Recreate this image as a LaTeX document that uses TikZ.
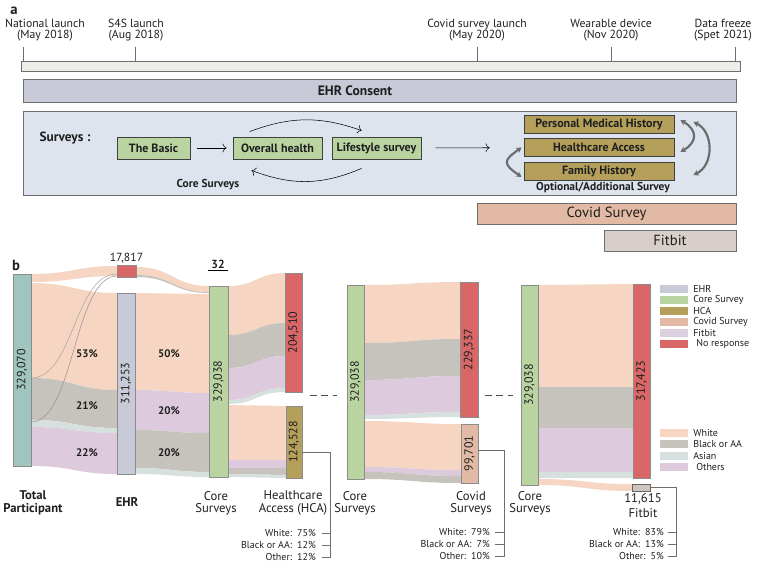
\documentclass[tikz,border=0pt]{standalone}
\usepackage{fontspec}
\setmainfont{PT Sans}
\usetikzlibrary{arrows.meta}

\definecolor{lineg}{HTML}{6E6E6E}
\definecolor{timec}{HTML}{EFEDE8}
\definecolor{ehrc}{HTML}{C8CAD7}
\definecolor{survc}{HTML}{DDE4EE}
\definecolor{corec}{HTML}{B9D3A1}
\definecolor{hcac}{HTML}{B5A05B}
\definecolor{covc}{HTML}{E2B9A4}
\definecolor{fitc}{HTML}{D8CECA}
\definecolor{noresc}{HTML}{D96767}
\definecolor{totc}{HTML}{A0C5BF}
\definecolor{whitec}{HTML}{F6D6C2}
\definecolor{blackc}{HTML}{C5C3BC}
\definecolor{asianc}{HTML}{D6E0DE}
\definecolor{otherc}{HTML}{DDCADD}
\definecolor{fitnc}{HTML}{CDC5BE}
\definecolor{legfit}{HTML}{DCD0E0}

% one sankey band: x1, top1, bottom1, x2, top2, bottom2, colour
\newcommand{\flow}[7]{%
  \fill[#7] (#1,#2) .. controls ({(#1+#4)/2},#2) and ({(#1+#4)/2},#5) .. (#4,#5)
    -- (#4,#6) .. controls ({(#1+#4)/2},#6) and ({(#1+#4)/2},#3) .. (#1,#3) -- cycle;}

\begin{document}
\begin{tikzpicture}[x=0.75pt,y=-0.75pt,
    every node/.style={text=black!88},
    >={To[length=3pt,width=6.5pt]},
    bar/.style 2 args={draw=lineg, line width=0.6pt, inner sep=0pt,
      minimum width=#1*0.75pt, minimum height=#2*0.75pt},
    sbox/.style={draw=black!75, line width=0.6pt, inner sep=0pt,
      minimum height=22*0.75pt, font=\fontsize{9}{9}\selectfont\bfseries},
    sbar/.style 2 args={draw=black!45, line width=0.5pt, rotate=90, inner sep=0pt,
      minimum width=#2*0.75pt, minimum height=#1*0.75pt, font=\fontsize{9}{9}\selectfont},
    tl/.style={align=center, font=\fontsize{8.8}{8.6}\selectfont},
    capt/.style={align=center, font=\fontsize{9.5}{9.3}\selectfont},
    pct/.style={font=\fontsize{8.2}{9}\selectfont\bfseries},
    stat/.style={anchor=east, inner sep=0pt, font=\fontsize{7.5}{8}\selectfont},
    sw/.style={minimum width=28*0.75pt, minimum height=7.5*0.75pt, inner sep=0pt},
    legtext/.style={anchor=west, inner sep=0pt, font=\fontsize{7.5}{8}\selectfont},
    garrow/.style={draw=black!58, line width=1.6pt,
      arrows={Stealth[length=4pt,width=4.5pt]-Stealth[length=4pt,width=4.5pt]}}]
  \useasboundingbox (0,0) rectangle (761,572);

  % a : timeline
  \node[font=\fontsize{11}{11}\selectfont\bfseries] (la) at (14,11) {a};
  \node[tl] (t1) at (45,30) {National launch\\(May 2018)};
  \node[tl] (t2) at (136,30) {S4S launch\\(Aug 2018)};
  \node[tl] (t3) at (477,30) {Covid survey launch\\(May 2020)};
  \node[tl] (t4) at (611,30) {Wearable device\\(Nov 2020)};
  \node[tl] (t5) at (723,30) {Data freeze\\(Spet 2021)};
  \node[bar={719}{10}, fill=timec] (time) at (380.5,66) {};
  \coordinate (tk1) at (23,47);
  \coordinate (tk2) at (135,47);
  \coordinate (tk3) at (477,47);
  \coordinate (tk4) at (611,47);
  \coordinate (tk5) at (735,47);
  \draw[lineg] (tk1) -- (tk1 |- time.north);
  \draw[lineg] (tk2) -- (tk2 |- time.north);
  \draw[lineg] (tk3) -- (tk3 |- time.north);
  \draw[lineg] (tk4) -- (tk4 |- time.north);
  \draw[lineg] (tk5) -- (tk5 |- time.north);

  \node[bar={713}{23}, fill=ehrc] (ehr) at (379.5,90.5) {};
  \node[font=\fontsize{10.2}{10}\selectfont\bfseries] (ehrt) at (355,90.5) {EHR Consent};

  % a : surveys
  \node[bar={713}{84}, fill=survc] (surv) at (379.5,153) {};
  \node[font=\fontsize{10}{10}\selectfont\bfseries] (survt) at (65,138) {Surveys :};
  \node[sbox, fill=corec, minimum width=73*0.75pt] (basic) at (153.5,148) {The Basic};
  \node[sbox, fill=corec, minimum width=89*0.75pt] (overall) at (277.5,148) {Overall health};
  \node[sbox, fill=corec, minimum width=89*0.75pt] (life) at (376.5,148) {Lifestyle survey};
  \draw[->, shorten <=5.25pt, shorten >=4.5pt] (basic) -- (overall);
  \draw[->] ([shift={(17,-5)}]overall.north west) to[bend left=20] ([shift={(30,-6)}]life.north west);
  \draw[->] ([shift={(30,9)}]life.south west) to[bend left=22] ([shift={(19,11)}]overall.south west);
  \node[font=\fontsize{8.6}{9}\selectfont\bfseries] (coret) at (208,185) {Core Surveys};

  \node[sbox, fill=hcac, minimum width=150*0.75pt, minimum height=18*0.75pt] (pmh) at (599,124.5) {Personal Medical History};
  \node[sbox, fill=hcac, minimum width=150*0.75pt, minimum height=18*0.75pt] (ha) at (599,147.5) {Healthcare Access};
  \node[sbox, fill=hcac, minimum width=150*0.75pt, minimum height=18*0.75pt] (fh) at (599,171) {Family History};
  \node[font=\fontsize{8.6}{9}\selectfont\bfseries] (optt) at (603,188) {Optional/Additional Survey};
  \draw[->, shorten <=10.5pt, shorten >=25.5pt] (life) -- (ha);
  \draw[garrow] ([shift={(-2,0)}]ha.west) to[out=215,in=145,looseness=2] ([shift={(-2,6)}]fh.west);
  \draw[garrow] ([shift={(6,-4.5)}]pmh.east) to[out=-30,in=30,looseness=1.6] ([shift={(6,4.5)}]ha.east);
  \draw[garrow] ([shift={(19,-2.5)}]pmh.east) to[out=-25,in=25,looseness=1.1] ([shift={(19,4)}]fh.east);

  \node[bar={259}{21}, fill=covc, font=\fontsize{11}{11}\selectfont] (covbar) at (606.5,213.5) {Covid Survey};
  \node[bar={132}{21}, fill=fitc, font=\fontsize{11}{11}\selectfont] (fitbar) at (670,240.5) {Fitbit};

  % b : bands
  \node[font=\fontsize{11}{11}\selectfont\bfseries] (lb) at (16,265) {b};
  \flow{31}{274}{282}{117}{266}{276}{whitec}
  \flow{31}{283}{378}{117}{293}{390}{whitec}
  \flow{31}{378}{420}{117}{390}{428}{blackc}
  \flow{31}{420}{427}{117}{428}{433}{asianc}
  \flow{31}{427}{466}{117}{433}{474}{otherc}
  \draw[black!35, line width=0.4pt] (31,378) .. controls (74,378) and (74,274) .. (117,274);
  \draw[otherc!70!black, line width=0.4pt] (31,422) .. controls (74,422) and (74,276) .. (117,276);

  \flow{136}{267}{275}{209}{286}{292}{whitec}
  \flow{136}{275}{277}{209}{292}{293}{blackc}
  \flow{135}{293}{390}{209}{294}{393}{whitec}
  \flow{135}{390}{430}{209}{393}{433}{otherc}
  \flow{135}{430}{468}{209}{433}{472}{blackc}
  \flow{135}{468}{474}{209}{472}{477}{asianc}

  \flow{228}{286}{335}{285}{273}{323}{whitec}
  \flow{228}{335}{368}{285}{323}{356}{blackc}
  \flow{228}{368}{400}{285}{356}{388}{otherc}
  \flow{228}{400}{404}{285}{388}{392}{asianc}
  \flow{228}{405}{460}{286}{406}{460}{whitec}
  \flow{228}{460}{468}{286}{460}{468}{otherc}
  \flow{228}{468}{474}{286}{468}{475}{blackc}
  \flow{228}{474}{477}{286}{475}{478}{asianc}

  \flow{364}{285}{343}{460}{282}{339}{whitec}
  \flow{364}{343}{380}{460}{339}{376}{blackc}
  \flow{364}{380}{415}{460}{376}{412}{otherc}
  \flow{364}{415}{419}{460}{412}{417}{asianc}
  \flow{364}{421}{467}{461}{424}{470}{whitec}
  \flow{364}{467}{472}{461}{470}{476}{otherc}
  \flow{364}{472}{479}{461}{476}{483}{blackc}

  \flow{538}{285}{387}{633}{284}{387}{whitec}
  \flow{538}{387}{428}{633}{387}{428}{blackc}
  \flow{538}{428}{472}{633}{428}{472}{otherc}
  \flow{538}{472}{478}{633}{472}{478}{asianc}
  \flow{538}{479}{485}{632}{484}{491}{whitec}

  % b : nodes
  \node[sbar={18}{192}, fill=totc] (tot) at (22,370) {329,070};
  \node[bar={19}{12}, fill=noresc, draw=black!45] (nr0) at (126.5,271) {};
  \node[anchor=south, inner sep=1pt, font=\fontsize{8.8}{9}\selectfont] (n17) at (nr0.north) {17,817};
  \node[sbar={18}{181}, fill=ehrc] (ehrn) at (126,383.5) {311,253};
  \node[sbar={19}{191}, fill=corec] (core1) at (218.5,381.5) {329,038};
  \node[inner sep=1pt, minimum width=20*0.75pt, font=\fontsize{8.8}{9}\selectfont\bfseries] (n32) at (218,264) {32};
  \draw (n32.south west) -- (n32.south east);
  \node[sbar={17}{119}, fill=noresc] (nr1) at (293.5,332.5) {204,510};
  \node[sbar={16}{72}, fill=hcac] (hca) at (294,442) {124,528};
  \node[sbar={17}{194}, fill=corec] (core2) at (355.5,382) {329,038};
  \node[sbar={18}{135}, fill=noresc] (nr2) at (469,349.5) {229,337};
  \node[sbar={17}{59}, fill=covc] (cov) at (469.5,453.5) {99,701};
  \node[sbar={17}{200}, fill=corec] (core3) at (529.5,385) {329,038};
  \node[sbar={17}{194}, fill=noresc] (nr3) at (641.5,381) {317,423};
  \node[bar={18}{7}, fill=fitnc, draw=black!60] (fitn) at (641,487.5) {};

  \coordinate (d1) at (310,395);
  \coordinate (d2) at (337,395);
  \coordinate (d3) at (485,395);
  \coordinate (d4) at (513,395);
  \draw[black!70, dash pattern=on 5pt off 3.5pt] (d1) -- (d2);
  \draw[black!70, dash pattern=on 5pt off 3.5pt] (d3) -- (d4);

  \node[pct] (p53) at (87,354) {53\%};
  \node[pct] (p21) at (87,406) {21\%};
  \node[pct] (p22) at (87,453) {22\%};
  \node[pct] (p50) at (169,354) {50\%};
  \node[pct] (p20a) at (169,411) {20\%};
  \node[pct] (p20b) at (169,453) {20\%};

  % b : captions
  \node[capt, font=\fontsize{9.5}{9.3}\selectfont\bfseries] (ctot) at (33,503) {Total\\Participant};
  \node[capt, font=\fontsize{9.5}{9.3}\selectfont\bfseries] (cehr) at (127,502) {EHR};
  \node[capt] (ccore1) at (216,503) {Core\\Surveys};
  \node[capt] (chca) at (293,503) {Healthcare\\Access (HCA)};
  \node[capt] (ccore2) at (355,503) {Core\\Surveys};
  \node[capt] (ccov) at (471,503) {Covid\\Surveys};
  \node[capt] (ccore3) at (530,503) {Core\\Surveys};
  \node[capt] (cfitn) at (643,499) {11,615};
  \node[capt] (cfit) at (643,513) {Fitbit};

  \node[stat] (hcaw) at (316,533) {White:\enspace 75\%};
  \node[stat] (hcab) at (316,545) {Black or AA:\enspace 12\%};
  \node[stat] (hcao) at (316,557) {Other:\enspace 12\%};
  \draw[lineg] ([shift={(0,10)}]hca.south) -| ([shift={(14,0)}]hcao.east) -- ([shift={(6,0)}]hcao.east);
  \draw[lineg] ([shift={(6,0)}]hcaw.east) -- ([shift={(14,0)}]hcaw.east);
  \draw[lineg] ([shift={(6,0)}]hcab.east) -- ([shift={(14,0)}]hcab.east);

  \node[stat] (covw) at (490,532) {White:\enspace 79\%};
  \node[stat] (covbl) at (490,544) {Black or AA:\enspace 7\%};
  \node[stat] (covo) at (490,556) {Other:\enspace 10\%};
  \draw[lineg] ([shift={(0,-3)}]cov.south) -| ([shift={(14,0)}]covo.east) -- ([shift={(5,0)}]covo.east);
  \draw[lineg] ([shift={(5,0)}]covw.east) -- ([shift={(14,0)}]covw.east);
  \draw[lineg] ([shift={(5,0)}]covbl.east) -- ([shift={(14,0)}]covbl.east);

  \node[stat] (fitw) at (664,532) {White:\enspace 83\%};
  \node[stat] (fitbl) at (664,544) {Black or AA:\enspace 13\%};
  \node[stat] (fito) at (664,556) {Other:\enspace 5\%};
  \draw[lineg] (fitn.east) -| ([shift={(12,0)}]fito.east) -- ([shift={(4,0)}]fito.east);
  \draw[lineg] ([shift={(4,0)}]fitw.east) -- ([shift={(12,0)}]fitw.east);
  \draw[lineg] ([shift={(4,0)}]fitbl.east) -- ([shift={(12,0)}]fitbl.east);

  % b : legend
  \node[sw, fill=ehrc] (lg1) at (674,289) {};
  \node[legtext] (lg1t) at (693,289) {EHR};
  \node[sw, fill=corec] (lg2) at (674,300) {};
  \node[legtext] (lg2t) at (693,300) {Core Survey};
  \node[sw, fill=hcac] (lg3) at (674,311) {};
  \node[legtext] (lg3t) at (693,311) {HCA};
  \node[sw, fill=covc] (lg4) at (674,322) {};
  \node[legtext] (lg4t) at (693,322) {Covid Survey};
  \node[sw, fill=legfit] (lg5) at (674,333) {};
  \node[legtext] (lg5t) at (693,333) {Fitbit};
  \node[sw, fill=noresc] (lg6) at (674,344) {};
  \node[legtext] (lg6t) at (696,344) {No response};

  \node[sw, fill=whitec] (rc1) at (674,433) {};
  \node[legtext] (rc1t) at (693,433) {White};
  \node[sw, fill=blackc] (rc2) at (674,444) {};
  \node[legtext] (rc2t) at (693,444) {Black or AA};
  \node[sw, fill=asianc] (rc3) at (674,456) {};
  \node[legtext] (rc3t) at (693,456) {Asian};
  \node[sw, fill=otherc] (rc4) at (674,467) {};
  \node[legtext] (rc4t) at (696,467) {Others};
\end{tikzpicture}
\end{document}
